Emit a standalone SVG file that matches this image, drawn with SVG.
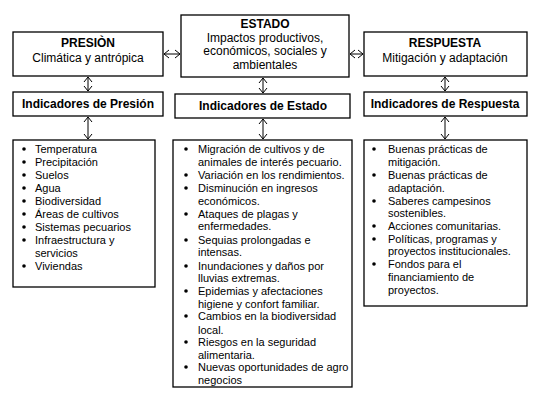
<svg xmlns="http://www.w3.org/2000/svg" width="538" height="400" viewBox="0 0 538 400">
<style>
.box{fill:#fff;stroke:#000;stroke-width:1.3}
.t{font-family:"Liberation Sans",Arial,sans-serif;font-size:12px;fill:#000}
.b{font-weight:bold}
.c{text-anchor:middle}
.l{font-family:"Liberation Sans",Arial,sans-serif;font-size:11px;fill:#000}
.conn line{stroke:#000;stroke-width:1}
.conn path{fill:none;stroke:#000;stroke-width:1}
</style>
<rect width="538" height="400" fill="#fff"/>
<g id="presion">
<rect class="box" x="13" y="32" width="150" height="44"/>
<text class="t b c" x="88" y="47">PRESIÒN</text>
<text class="t c" x="88" y="62">Climática y antrópica</text>
</g>
<g id="estado">
<rect class="box" x="181" y="15" width="168" height="62"/>
<text class="t b c" x="265" y="28">ESTADO</text>
<text class="t c" x="265" y="42">Impactos productivos,</text>
<text class="t c" x="265" y="55">económicos, sociales y</text>
<text class="t c" x="265" y="69">ambientales</text>
</g>
<g id="respuesta">
<rect class="box" x="364" y="32" width="163" height="44"/>
<text class="t b c" x="445" y="47">RESPUESTA</text>
<text class="t c" x="445" y="62">Mitigación y adaptación</text>
</g>
<g id="ind-presion">
<rect class="box" x="13" y="92" width="150" height="24"/>
<text class="t b c" x="88" y="108">Indicadores de Presión</text>
</g>
<g id="ind-estado">
<rect class="box" x="175" y="94" width="175" height="24"/>
<text class="t b c" x="263" y="110">Indicadores de Estado</text>
</g>
<g id="ind-respuesta">
<rect class="box" x="364" y="92" width="163" height="24"/>
<text class="t b c" x="445" y="108">Indicadores de Respuesta</text>
</g>
<g id="list-presion">
<rect class="box" x="13" y="140" width="142" height="147"/>
<g fill="#000">
<circle cx="24" cy="149" r="1.8"/><circle cx="24" cy="162" r="1.8"/><circle cx="24" cy="175" r="1.8"/><circle cx="24" cy="188" r="1.8"/><circle cx="24" cy="201" r="1.8"/><circle cx="24" cy="214" r="1.8"/><circle cx="24" cy="227" r="1.8"/><circle cx="24" cy="240" r="1.8"/><circle cx="24" cy="266" r="1.8"/>
</g>
<text class="l" x="35" y="153">Temperatura</text>
<text class="l" x="35" y="166">Precipitación</text>
<text class="l" x="35" y="179">Suelos</text>
<text class="l" x="35" y="192">Agua</text>
<text class="l" x="35" y="205">Biodiversidad</text>
<text class="l" x="35" y="218">Áreas de cultivos</text>
<text class="l" x="35" y="231">Sistemas pecuarios</text>
<text class="l" x="35" y="244">Infraestructura y</text>
<text class="l" x="35" y="257">servicios</text>
<text class="l" x="35" y="270">Viviendas</text>
</g>
<g id="list-estado">
<rect class="box" x="173" y="140" width="179" height="247"/>
<g fill="#000">
<circle cx="186" cy="149" r="1.8"/><circle cx="186" cy="175" r="1.8"/><circle cx="186" cy="188" r="1.8"/><circle cx="186" cy="214" r="1.8"/><circle cx="186" cy="240" r="1.8"/><circle cx="186" cy="266" r="1.8"/><circle cx="186" cy="291" r="1.8"/><circle cx="186" cy="316" r="1.8"/><circle cx="186" cy="342" r="1.8"/><circle cx="186" cy="367" r="1.8"/>
</g>
<text class="l" x="198" y="153">Migración de cultivos y de</text>
<text class="l" x="198" y="166">animales de interés pecuario.</text>
<text class="l" x="198" y="179">Variación en los rendimientos.</text>
<text class="l" x="198" y="192">Disminución en ingresos</text>
<text class="l" x="198" y="205">económicos.</text>
<text class="l" x="198" y="218">Ataques de plagas y</text>
<text class="l" x="198" y="230">enfermedades.</text>
<text class="l" x="198" y="244">Sequias prolongadas e</text>
<text class="l" x="198" y="256">intensas.</text>
<text class="l" x="198" y="270">Inundaciones y daños por</text>
<text class="l" x="198" y="282">lluvias extremas.</text>
<text class="l" x="198" y="295">Epidemias y afectaciones</text>
<text class="l" x="198" y="308">higiene y confort familiar.</text>
<text class="l" x="198" y="320">Cambios en la biodiversidad</text>
<text class="l" x="198" y="334">local.</text>
<text class="l" x="198" y="346">Riesgos en la seguridad</text>
<text class="l" x="198" y="359">alimentaria.</text>
<text class="l" x="198" y="371">Nuevas oportunidades de agro</text>
<text class="l" x="198" y="384">negocios</text>
</g>
<g id="list-respuesta">
<rect class="box" x="364" y="140" width="163" height="166"/>
<g fill="#000">
<circle cx="374" cy="149" r="1.8"/><circle cx="374" cy="175" r="1.8"/><circle cx="374" cy="201" r="1.8"/><circle cx="374" cy="226" r="1.8"/><circle cx="374" cy="239" r="1.8"/><circle cx="374" cy="264" r="1.8"/>
</g>
<text class="l" x="388" y="153">Buenas prácticas de</text>
<text class="l" x="388" y="166">mitigación.</text>
<text class="l" x="388" y="179">Buenas prácticas de</text>
<text class="l" x="388" y="192">adaptación.</text>
<text class="l" x="388" y="205">Saberes campesinos</text>
<text class="l" x="388" y="217">sostenibles.</text>
<text class="l" x="388" y="230">Acciones comunitarias.</text>
<text class="l" x="388" y="243">Políticas, programas y</text>
<text class="l" x="388" y="255">proyectos institucionales.</text>
<text class="l" x="388" y="268">Fondos para el</text>
<text class="l" x="388" y="281">financiamiento de</text>
<text class="l" x="388" y="294">proyectos.</text>
</g>
<g id="connectors" class="conn">
<line x1="164" y1="54" x2="180" y2="54"/><path d="M169,50 L164,54 L169,58 M175,50 L180,54 L175,58"/>
<line x1="350" y1="54" x2="363" y2="54"/><path d="M355,50 L350,54 L355,58 M358,50 L363,54 L358,58"/>
<line x1="88" y1="77" x2="88" y2="91"/><path d="M84,82 L88,77 L92,82 M84,86 L88,91 L92,86"/>
<line x1="88" y1="117" x2="88" y2="139"/><path d="M84,122 L88,117 L92,122 M84,134 L88,139 L92,134"/>
<line x1="263" y1="78" x2="263" y2="93"/><path d="M259,83 L263,78 L267,83 M259,88 L263,93 L267,88"/>
<line x1="263" y1="119" x2="263" y2="139"/><path d="M259,124 L263,119 L267,124 M259,134 L263,139 L267,134"/>
<line x1="445" y1="77" x2="445" y2="91"/><path d="M441,82 L445,77 L449,82 M441,86 L445,91 L449,86"/>
<line x1="445" y1="117" x2="445" y2="139"/><path d="M441,122 L445,117 L449,122 M441,134 L445,139 L449,134"/>
</g>
</svg>
